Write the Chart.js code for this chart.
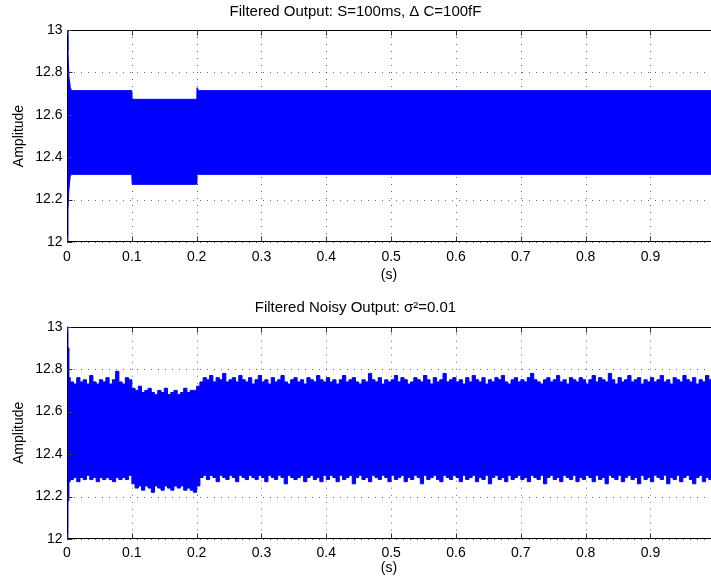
<!DOCTYPE html>
<html><head><meta charset="utf-8">
<script src="https://cdn.jsdelivr.net/npm/chart.js@4.4.0/dist/chart.umd.min.js"></script>
<style>
html,body{margin:0;padding:0;background:#fff;width:711px;height:580px;overflow:hidden}
canvas{position:absolute;left:0}
</style></head><body>
<canvas id="c1" width="711" height="290" style="top:0"></canvas>
<canvas id="c2" width="711" height="290" style="top:290px"></canvas>
<script>
// ---------- data ----------
const xTickValues = [0, 0.1, 0.2, 0.3, 0.4, 0.5, 0.6, 0.7, 0.8, 0.9];
const xTickLabels = ['0', '0.1', '0.2', '0.3', '0.4', '0.5', '0.6', '0.7', '0.8', '0.9'];
const yTickValues = [12, 12.2, 12.4, 12.6, 12.8, 13];
const yTickLabels = ['12', '12.2', '12.4', '12.6', '12.8', '13'];
const xMin = 0, xMax = 0.9934, yMin = 12, yMax = 13;

const titleTop = 'Filtered Output: S=100ms, \u0394 C=100fF';
const titleBottom = 'Filtered Noisy Output: \u03c3\u00b2=0.01';

// clean (top) envelope of the oscillation
const cleanTime  = [0, 0.0015, 0.003, 0.005, 0.007, 0.1, 0.1005, 0.2, 0.2005, 0.203, 0.9934];
const cleanUpper = [13, 12.9, 12.78, 12.73, 12.714, 12.714, 12.673, 12.673, 12.728, 12.714, 12.714];
const cleanLower = [12, 12.15, 12.25, 12.31, 12.319, 12.319, 12.272, 12.272, 12.319, 12.319, 12.319];

// noisy (bottom) envelope: start transient, then samples every 5 ms
const noisyStartTime  = [0, 0.0015, 0.003];
const noisyStartUpper = [13, 12.9, 12.76];
const noisyStartLower = [12, 12.18, 12.27];
const noisyStep = 0.005;
const noisyUpper = [
  12.74,12.73,12.76,12.74,12.75,12.73,12.77,12.74,12.73,12.75,12.74,12.76,12.73,12.75,12.79,12.74,12.73,12.76,12.75,
  12.71,12.70,12.72,12.69,12.70,12.71,12.69,12.68,12.70,12.69,12.71,12.68,12.69,12.70,12.68,12.69,12.71,12.69,12.70,12.70,
  12.72,12.74,12.76,12.75,12.77,12.74,12.76,12.75,12.78,12.74,12.75,12.76,12.74,12.77,12.75,12.74,12.76,12.73,12.75,12.77,
  12.74,12.75,12.73,12.76,12.74,12.75,12.77,12.74,12.73,12.75,12.76,12.74,12.75,12.73,12.76,12.75,12.74,12.77,12.75,12.74,
  12.76,12.74,12.75,12.73,12.75,12.77,12.74,12.75,12.76,12.74,12.73,12.75,12.74,12.78,12.75,12.74,12.76,12.73,12.75,12.74,
  12.75,12.77,12.74,12.76,12.75,12.73,12.74,12.76,12.75,12.74,12.77,12.75,12.73,12.76,12.74,12.75,12.78,12.74,12.75,12.76,
  12.74,12.75,12.73,12.76,12.74,12.77,12.75,12.74,12.76,12.73,12.75,12.74,12.76,12.75,12.77,12.74,12.73,12.75,12.76,12.74,
  12.75,12.74,12.76,12.78,12.75,12.74,12.73,12.75,12.76,12.74,12.75,12.77,12.74,12.75,12.73,12.76,12.75,12.74,12.76,12.75,
  12.73,12.75,12.77,12.74,12.76,12.75,12.74,12.78,12.75,12.73,12.76,12.74,12.75,12.77,12.74,12.75,12.76,12.73,12.75,12.74,
  12.76,12.74,12.75,12.77,12.74,12.75,12.73,12.76,12.75,12.74,12.77,12.75,12.74,12.76,12.73,12.75,12.74,12.77,12.75,12.76
];
const noisyLower = [
  12.28,12.29,12.27,12.29,12.28,12.30,12.28,12.29,12.27,12.29,12.28,12.29,12.28,12.27,12.29,12.28,12.29,12.28,12.30,
  12.26,12.24,12.25,12.23,12.25,12.24,12.22,12.25,12.24,12.23,12.25,12.24,12.23,12.25,12.24,12.25,12.23,12.24,12.23,12.22,
  12.25,12.29,12.30,12.28,12.30,12.29,12.27,12.30,12.29,12.28,12.30,12.29,12.27,12.30,12.29,12.28,12.30,12.29,12.28,12.30,
  12.29,12.27,12.30,12.29,12.28,12.30,12.29,12.26,12.30,12.29,12.28,12.29,12.30,12.27,12.29,12.30,12.28,12.29,12.27,12.30,
  12.28,12.30,12.29,12.27,12.30,12.28,12.29,12.30,12.26,12.29,12.30,12.28,12.29,12.27,12.30,12.29,12.28,12.30,12.29,12.27,
  12.30,12.28,12.29,12.30,12.27,12.29,12.28,12.30,12.29,12.26,12.30,12.28,12.29,12.30,12.28,12.27,12.30,12.29,12.28,12.30,
  12.29,12.27,12.30,12.28,12.29,12.30,12.27,12.29,12.28,12.30,12.26,12.29,12.30,12.28,12.29,12.27,12.30,12.28,12.29,12.30,
  12.28,12.29,12.27,12.30,12.29,12.28,12.30,12.26,12.29,12.30,12.28,12.29,12.27,12.30,12.29,12.28,12.30,12.27,12.29,12.28,
  12.30,12.29,12.27,12.30,12.28,12.29,12.26,12.30,12.29,12.28,12.30,12.27,12.29,12.30,12.28,12.29,12.26,12.30,12.28,12.29,
  12.27,12.30,12.29,12.28,12.30,12.26,12.29,12.28,12.30,12.27,12.29,12.30,12.28,12.26,12.29,12.30,12.27,12.29,12.28,12.30
];

// ---------- build ----------
const noisyTime = noisyStartTime.concat(noisyUpper.map((_, i) => +((i + 1) * noisyStep).toFixed(4)));
const noisyUp = noisyStartUpper.concat(noisyUpper);
const noisyLo = noisyStartLower.concat(noisyLower);

const FONT = "'Liberation Sans', Arial, Helvetica, sans-serif";
const BLUE = '#0000ff';

const matlabAxes = {
  id: 'matlabAxes',
  beforeDatasetsDraw(chart) {
    const {ctx, chartArea: a, scales: {x, y}} = chart;
    ctx.save();
    ctx.strokeStyle = 'rgba(0,0,0,0.6)';
    ctx.lineWidth = 1;
    ctx.setLineDash([1, 6]);
    x.ticks.forEach(t => {
      const px = Math.round(x.getPixelForValue(t.value)) + 0.5;
      ctx.beginPath(); ctx.moveTo(px, a.top); ctx.lineTo(px, a.bottom); ctx.stroke();
    });
    y.ticks.forEach(t => {
      const py = Math.round(y.getPixelForValue(t.value)) + 0.5;
      ctx.beginPath(); ctx.moveTo(a.left, py); ctx.lineTo(a.right, py); ctx.stroke();
    });
    ctx.restore();
  },
  afterDatasetsDraw(chart) {
    const {ctx, chartArea: a, scales: {x, y}} = chart;
    ctx.save();
    ctx.strokeStyle = '#000';
    ctx.lineWidth = 1;
    ctx.setLineDash([]);
    const L = Math.round(a.left) + 0.5, T = Math.round(a.top) + 0.5, B = Math.round(a.bottom) - 0.5;
    ctx.beginPath();
    ctx.moveTo(L, T); ctx.lineTo(a.right, T);
    ctx.moveTo(L, T); ctx.lineTo(L, B + 0.5);
    ctx.moveTo(L - 0.5, B); ctx.lineTo(a.right, B);
    ctx.stroke();
    ctx.strokeStyle = '#333';
    ctx.beginPath();
    x.ticks.forEach(t => {
      const px = Math.round(x.getPixelForValue(t.value)) + 0.5;
      ctx.moveTo(px, B); ctx.lineTo(px, B - 5);
      ctx.moveTo(px, T); ctx.lineTo(px, T + 5);
    });
    y.ticks.forEach(t => {
      const py = Math.round(y.getPixelForValue(t.value)) + 0.5;
      ctx.moveTo(L, py); ctx.lineTo(L + 5, py);
    });
    ctx.stroke();
    ctx.restore();
  }
};

function makeChart(el, title, cfg, time, up, lo, stepped) {
  return new Chart(document.getElementById(el), {
    type: 'line',
    data: {
      datasets: [
        {data: time.map((t, i) => ({x: t, y: up[i]})), borderColor: BLUE, borderWidth: 1,
         pointRadius: 0, fill: false, tension: 0, stepped: stepped},
        {data: time.map((t, i) => ({x: t, y: lo[i]})), borderColor: BLUE, borderWidth: 1,
         backgroundColor: BLUE, pointRadius: 0, fill: '-1', tension: 0, stepped: stepped}
      ]
    },
    options: {
      responsive: false, animation: false, devicePixelRatio: 1,
      layout: {padding: 0},
      plugins: {
        legend: {display: false}, tooltip: {enabled: false},
        title: {display: true, text: title, color: '#000',
                font: {family: FONT, size: 15, weight: 'normal', lineHeight: 1.2},
                padding: {top: cfg.titleTop, bottom: cfg.titleBottom}}
      },
      scales: {
        x: {
          type: 'linear', min: xMin, max: xMax,
          afterBuildTicks: s => { s.ticks = xTickValues.map(v => ({value: v})); },
          afterFit: s => { s.height = cfg.xHeight; },
          grid: {display: false}, border: {display: false},
          ticks: {color: '#000', font: {family: FONT, size: 14}, padding: cfg.xTickPad,
                  maxRotation: 0, autoSkip: false, callback: (v, i) => xTickLabels[i]},
          title: {display: true, text: '(s)', color: '#000', font: {family: FONT, size: 14},
                  padding: {top: 0, bottom: cfg.xTitlePad}}
        },
        y: {
          type: 'linear', min: yMin, max: yMax,
          afterBuildTicks: s => { s.ticks = yTickValues.map(v => ({value: v})); },
          afterFit: s => { s.width = 67; },
          grid: {display: false}, border: {display: false},
          ticks: {color: '#000', font: {family: FONT, size: 14}, padding: -3.5,
                  callback: (v, i) => yTickLabels[i]},
          title: {display: true, text: 'Amplitude', color: '#000', font: {family: FONT, size: 14},
                  padding: {top: 11, bottom: 0}}
        }
      }
    },
    plugins: [matlabAxes]
  });
}

makeChart('c1', titleTop, {titleTop: 3, titleBottom: 9, xHeight: 48, xTickPad: -1, xTitlePad: 6.6},
          cleanTime, cleanUpper, cleanLower, false);
makeChart('c2', titleBottom, {titleTop: 9, titleBottom: 9.7, xHeight: 41, xTickPad: -2, xTitlePad: 3.6},
          noisyTime, noisyUp, noisyLo, true);
</script>
</body></html>
